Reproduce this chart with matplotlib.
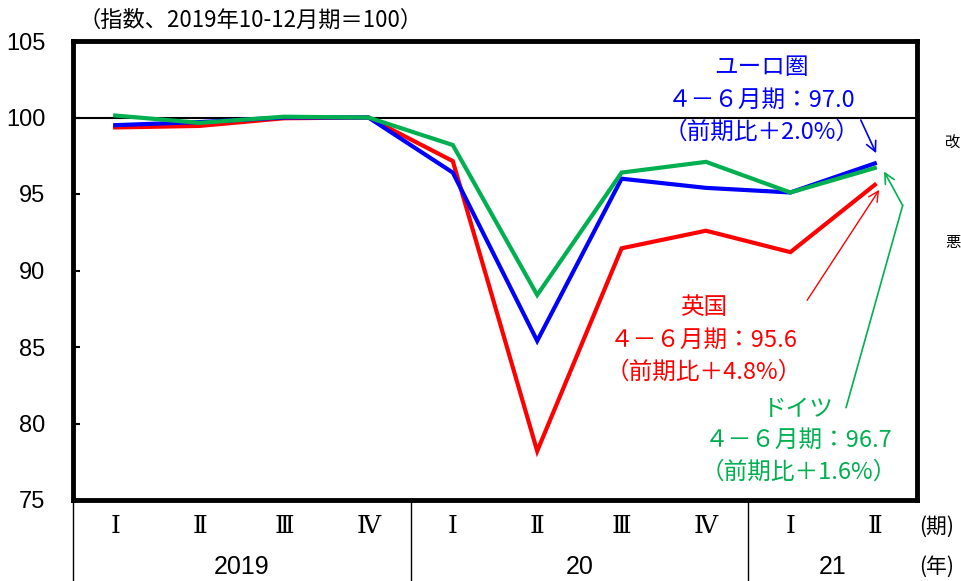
import matplotlib
matplotlib.use("Agg")
import matplotlib.pyplot as plt
from matplotlib.transforms import blended_transform_factory

plt.rcParams['font.family'] = ['Noto Sans CJK JP', 'DejaVu Sans']

quarters = ["Ⅰ", "Ⅱ", "Ⅲ", "Ⅳ", "Ⅰ", "Ⅱ", "Ⅲ", "Ⅳ", "Ⅰ", "Ⅱ"]
years = ["2019", "20", "21"]
year_spans = [(0, 3), (4, 7), (8, 9)]
euro = [99.5, 99.7, 100.0, 100.0, 96.4, 85.4, 96.0, 95.4, 95.1, 97.0]
uk = [99.35, 99.45, 99.95, 100.0, 97.15, 78.2, 91.45, 92.6, 91.2, 95.6]
germany = [100.13, 99.65, 100.05, 100.0, 98.2, 88.4, 96.4, 97.1, 95.1, 96.7]
yticks = [75, 80, 85, 90, 95, 100, 105]

BLUE = "#0000FF"
RED = "#FF0000"
GREEN = "#00B050"

W, H = 962, 581
fig = plt.figure(figsize=(W / 100, H / 100), dpi=100)
L, R, T, B = 73, 917, 41, 500
ax = fig.add_axes([L / W, 1 - B / H, (R - L) / W, (B - T) / H])

x = list(range(len(quarters)))
ax.plot(x, uk, color=RED, lw=3.0, solid_joinstyle='miter', zorder=3)
ax.plot(x, euro, color=BLUE, lw=3.0, solid_joinstyle='miter', zorder=4)
ax.plot(x, germany, color=GREEN, lw=3.0, solid_joinstyle='miter', zorder=5)
ax.axhline(100, color="black", lw=1.5, zorder=2)

ax.set_xlim(-0.5, len(quarters) - 0.5)
ax.set_ylim(75, 105)
ax.set_yticks(yticks)
ax.set_yticklabels([str(v) for v in yticks], family=['Liberation Sans', 'DejaVu Sans'], fontsize=17)
ax.tick_params(axis='y', direction='in', length=5, width=1.5, pad=20)
ax.set_xticks([])
for s in ax.spines.values():
    s.set_linewidth(3.5)
    s.set_color('black')

# category table below the axis
trans = blended_transform_factory(ax.transData, ax.transAxes)
bounds = [-0.5] + [e + 0.5 for (_, e) in year_spans[:-1]]
for b in bounds:
    ax.plot([b, b], [0, -0.2], color='black', lw=1.0, transform=trans, clip_on=False)
for i, q in enumerate(quarters):
    ax.text(i, -0.058, q, transform=trans, ha='center', va='center', fontsize=18,
            family=['DejaVu Serif', 'Noto Sans CJK JP'])
for yl, (s, e) in zip(years, year_spans):
    ax.text((s + e) / 2, -0.145, yl, transform=trans, ha='center', va='center', fontsize=18,
            family=['Liberation Sans Narrow', 'Liberation Sans', 'DejaVu Sans'])
ax.text(9.52, -0.058, "(期)", transform=trans, ha='left', va='center', fontsize=15)
ax.text(9.52, -0.145, "(年)", transform=trans, ha='left', va='center', fontsize=15)

# unit label
fig.text(78 / W, 1 - 20 / H, "（指数、2019年10-12月期＝100）", ha='left', va='center', fontsize=16)

# annotations
fs = 17
ax.text(7.66, 103.27, "ユーロ圏", color=BLUE, ha='center', va='center', fontsize=fs)
ax.text(7.66, 101.11, "４－６月期：97.0", color=BLUE, ha='center', va='center', fontsize=fs)
ax.text(7.66, 99.02, "（前期比＋2.0%）", color=BLUE, ha='center', va='center', fontsize=fs)
ax.annotate("", xy=(9.03, 97.5), xytext=(8.82, 100.0),
            arrowprops=dict(arrowstyle='->', color=BLUE, lw=1.2, mutation_scale=18), annotation_clip=False)

ax.text(6.97, 87.58, "英国", color=RED, ha='center', va='center', fontsize=fs)
ax.text(6.97, 85.42, "４－６月期：95.6", color=RED, ha='center', va='center', fontsize=fs)
ax.text(6.97, 83.33, "（前期比＋4.8%）", color=RED, ha='center', va='center', fontsize=fs)
ax.annotate("", xy=(9.07, 95.42), xytext=(8.18, 87.9),
            arrowprops=dict(arrowstyle='->', color=RED, lw=1.0, mutation_scale=18), annotation_clip=False)

ax.text(8.1, 80.92, "ドイツ", color=GREEN, ha='center', va='center', fontsize=fs)
ax.text(8.1, 78.89, "４－６月期：96.7", color=GREEN, ha='center', va='center', fontsize=fs)
ax.text(8.1, 76.8, "（前期比＋1.6%）", color=GREEN, ha='center', va='center', fontsize=fs)
ax.plot([8.66, 9.33], [81.05, 94.25], color=GREEN, lw=1.2, clip_on=False)
ax.annotate("", xy=(9.11, 96.47), xytext=(9.33, 94.25),
            arrowprops=dict(arrowstyle='->', color=GREEN, lw=1.2, mutation_scale=18,
                            shrinkA=0, shrinkB=0), annotation_clip=False)

# characters at the right edge (cut off in the source)
fig.text(945 / W, 1 - 143 / H, "改", ha='left', va='center', fontsize=11)
fig.text(945 / W, 1 - 243 / H, "悪", ha='left', va='center', fontsize=11)

fig.savefig("out.png", dpi=100)
